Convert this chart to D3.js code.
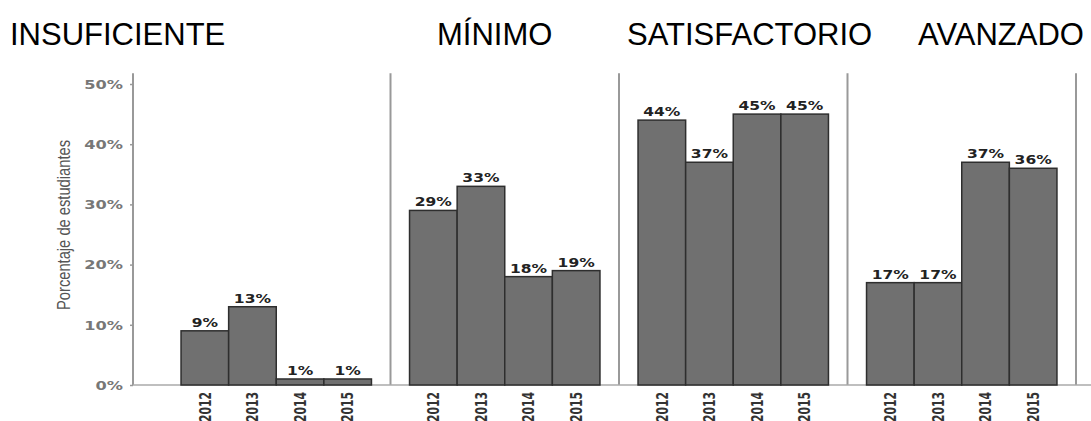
<!DOCTYPE html>
<html><head><meta charset="utf-8">
<script src="https://cdn.jsdelivr.net/npm/d3@7"></script>
<style>body{margin:0;background:#fff}svg{display:block}</style>
</head><body>
<svg id="c" width="1091" height="421"></svg>
<script>
const levels = ["INSUFICIENTE", "MÍNIMO", "SATISFACTORIO", "AVANZADO"];
const years = ["2012", "2013", "2014", "2015"];
const insuficiente = [9, 13, 1, 1];
const minimo = [29, 33, 18, 19];
const satisfactorio = [44, 37, 45, 45];
const avanzado = [17, 17, 37, 36];
const yTicks = [0, 10, 20, 30, 40, 50];
const yTitle = "Porcentaje de estudiantes";
const headerX = [10, 437, 627, 918];

const series = [insuficiente, minimo, satisfactorio, avanzado];
const svg = d3.select("#c");

const y = d3.scaleLinear().domain([0, 50]).range([385, 84]);
const xPanel = d3.scaleBand().domain(levels).range([162, 1076]).padding(0);
const xYear = d3.scaleBand().domain(years).range([0, xPanel.bandwidth()]).paddingInner(0).paddingOuter(0.4);

// headers
svg.selectAll("text.hdr").data(levels).join("text")
  .attr("class", "hdr")
  .attr("x", (d, i) => headerX[i]).attr("y", 45)
  .attr("font-family", "Liberation Sans, Arial, sans-serif")
  .attr("font-size", 31).attr("fill", "#000")
  .text(d => d);

// y axis
const yAxis = svg.append("g").attr("transform", "translate(133,0)")
  .call(d3.axisLeft(y).tickValues(yTicks).tickSize(3).tickFormat(d => d + "%"));
yAxis.select(".domain").remove();
yAxis.selectAll(".tick line").attr("stroke", "#999").attr("stroke-width", 1.5);
yAxis.selectAll(".tick text")
  .attr("x", -7.4).attr("dy", "0.35em")
  .attr("transform", "scale(1.35,1)")
  .attr("font-family", "DejaVu Sans, sans-serif").attr("font-weight", "bold")
  .attr("font-size", 12).attr("fill", "#777");

// axis title
svg.append("text")
  .attr("transform", "translate(70,225) scale(1.3,1) rotate(-90)")
  .attr("text-anchor", "middle")
  .attr("font-family", "Liberation Sans, Arial, sans-serif")
  .attr("font-size", 13.5).attr("fill", "#555")
  .attr("textLength", 170).attr("lengthAdjust", "spacingAndGlyphs")
  .text(yTitle);

// vertical lines: axis + separators
const vlines = [133].concat(levels.map(l => xPanel(l) + xPanel.bandwidth()));
svg.selectAll("line.sep").data(vlines).join("line")
  .attr("class", "sep")
  .attr("x1", d => d).attr("x2", d => d)
  .attr("y1", y(51.8)).attr("y2", y(0))
  .attr("stroke", "#999").attr("stroke-width", 2);

// baseline
svg.append("line").attr("x1", 133).attr("x2", 1091).attr("y1", y(0)).attr("y2", y(0))
  .attr("stroke", "#aaa").attr("stroke-width", 1.5);

// panels
levels.forEach((lvl, i) => {
  const g = svg.append("g").attr("transform", `translate(${xPanel(lvl)},0)`);
  const data = years.map((yr, j) => ({ yr, v: series[i][j] }));
  g.selectAll("rect").data(data).join("rect")
    .attr("x", d => xYear(d.yr)).attr("width", xYear.bandwidth())
    .attr("y", d => y(d.v)).attr("height", d => y(0) - y(d.v))
    .attr("fill", "#707070").attr("stroke", "#2e2e2e").attr("stroke-width", 1.5);
  g.selectAll("g.val").data(data).join("g")
    .attr("class", "val")
    .attr("transform", d => `translate(${xYear(d.yr) + xYear.bandwidth() / 2},${y(d.v) - 4})`)
    .append("text")
    .attr("transform", "scale(1.35,1)")
    .attr("text-anchor", "middle")
    .attr("font-family", "DejaVu Sans, sans-serif").attr("font-weight", "bold")
    .attr("font-size", 11.5).attr("fill", "#222")
    .text(d => d.v + "%");
  g.selectAll("text.yr").data(data).join("text")
    .attr("class", "yr")
    .attr("transform", d => `translate(${xYear(d.yr) + xYear.bandwidth() / 2},392) scale(1.35,1) rotate(-90)`)
    .attr("text-anchor", "end").attr("dy", "0.35em")
    .attr("font-family", "DejaVu Sans Condensed, sans-serif")
    .attr("font-weight", "bold")
    .attr("font-size", 12).attr("fill", "#333")
    .text(d => d.yr);
});
</script>
</body></html>
